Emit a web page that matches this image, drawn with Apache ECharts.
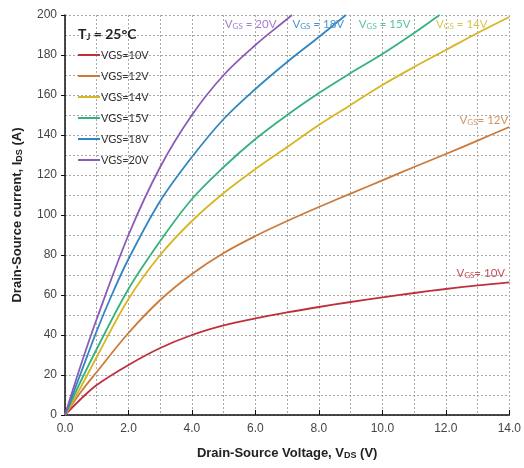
<!DOCTYPE html>
<html>
<head>
<meta charset="utf-8">
<script src="https://cdn.jsdelivr.net/npm/echarts@6/dist/echarts.min.js"></script>
<style>
  html, body { margin: 0; padding: 0; background: #fff; }
</style>
</head>
<body>
<!-- container sized like the reference picture -->
<div id="main" style="width: 524px; height: 468px"></div>
<script>
// drain-source voltage (V) points
var vds = [0, 0.5, 1, 2, 3, 4, 5, 6, 7, 8, 9, 10, 11, 12, 13, 14];
var vds15 = [0, 0.5, 1, 2, 3, 4, 5, 6, 7, 8, 9, 10, 11, 11.8];
var vds18 = [0, 0.5, 1, 1.5, 2, 3, 4, 5, 6, 7, 8, 8.85];
var vds20 = [0, 0.5, 1, 2, 3, 4, 5, 6, 7, 7.15];

// drain-source current (A)
var ids10 = [0, 8, 15, 25, 33.5, 40, 44.8, 48.3, 51.3, 54, 56.5, 58.8, 61, 63, 64.8, 66.3];
var ids12 = [0, 11.5, 21.5, 41, 57.5, 70.5, 81, 89.5, 97, 104, 110.7, 117.3, 124, 130.5, 137.2, 144];
var ids14 = [0, 14, 29, 58, 80, 97, 111, 123, 134, 145, 155, 165, 174, 182.5, 191, 199];
var ids15 = [0, 17, 33, 63, 87, 108, 124, 138, 150, 161, 171, 180.5, 191, 200];
var ids18 = [0, 21, 42, 61, 78, 107, 129, 148, 163, 176.5, 189, 200];
var ids20 = [0, 25, 48, 90, 124, 150, 170, 185, 198, 200];

var names = ['VGS=10V', 'VGS=12V', 'VGS=14V', 'VGS=15V', 'VGS=18V', 'VGS=20V'];
var curveLabels = ['10V', '12V', '14V', '15V', '18V', '20V'];
var xTicks = [0, 2, 4, 6, 8, 10, 12, 14];
var yTicks = [0, 20, 40, 60, 80, 100, 120, 140, 160, 180, 200];

var colors = ['#c0303c', '#cc7a3a', '#d6b624', '#33b27c', '#2f86c2', '#8b5cb6'];
var labelColors = ['#c8505a', '#d49460', '#d8c450', '#5cc49a', '#4f93cc', '#a07ec8'];

function pairs(xs, ys) {
  return xs.map(function (x, i) { return [x, ys[i]]; });
}

var curves = [
  { x: vds, y: ids10, at: [13.1, 71], sep: '= ' },
  { x: vds, y: ids12, at: [13.2, 147.5], sep: '= ' },
  { x: vds, y: ids14, at: [12.5, 195.5], sep: ' = ' },
  { x: vds15, y: ids15, at: [10.07, 195.5], sep: ' = ' },
  { x: vds18, y: ids18, at: [7.98, 195.5], sep: ' = ' },
  { x: vds20, y: ids20, at: [5.85, 195.5], sep: ' = ' }
];

var FONT = '"Liberation Sans", Arial, sans-serif';
var LFONT = 'Lato, "Open Sans", sans-serif';

var series = curves.map(function (c, i) {
  return {
    name: names[i],
    type: 'line',
    smooth: 0.35,
    symbol: 'none',
    data: pairs(c.x, c.y),
    lineStyle: { color: colors[i], width: 1.8 },
    itemStyle: { color: colors[i] },
    markPoint: {
      symbol: 'circle',
      symbolSize: 0,
      silent: true,
      data: [{ coord: c.at }],
      label: {
        show: true,
        position: 'inside',
        formatter: 'V{s|GS}' + c.sep + curveLabels[i],
        color: labelColors[i],
        fontFamily: LFONT,
        fontSize: 11.5,
        rich: {
          s: { fontSize: 8, color: labelColors[i], fontFamily: LFONT, padding: [4, 0, 0, 0] }
        }
      }
    }
  };
});

var dashed = { show: true, lineStyle: { color: '#a8a8a8', type: [2, 2], width: 1 } };

var chart = echarts.init(document.getElementById('main'));
chart.setOption({
  animation: false,
  backgroundColor: '#fff',
  title: {
    left: 78,
    top: 27,
    padding: 0,
    text: 'T{j|J} = 25°C',
    textStyle: {
      fontFamily: LFONT,
      fontWeight: 'bold',
      fontSize: 14,
      color: '#222',
      rich: { j: { fontSize: 9, fontWeight: 'bold', fontFamily: LFONT, color: '#222', padding: [6, 0, 0, 0] } }
    }
  },
  legend: {
    orient: 'vertical',
    left: 78,
    top: 48,
    padding: 0,
    icon: 'rect',
    itemWidth: 22,
    itemHeight: 2,
    itemGap: 7,
    data: names,
    textStyle: { fontFamily: LFONT, fontSize: 11, color: '#333', lineHeight: 14, padding: [0, 0, 0, -4] }
  },
  grid: { left: 65, right: 11, top: 15, bottom: 53 },
  xAxis: {
    type: 'value',
    min: xTicks[0],
    max: xTicks[xTicks.length - 1],
    interval: 2,
    name: 'Drain-Source Voltage, V{s|DS} (V)',
    nameLocation: 'middle',
    nameGap: 31,
    nameTextStyle: {
      fontFamily: FONT, fontWeight: 'bold', fontSize: 13, color: '#222',
      rich: { s: { fontSize: 9, fontWeight: 'bold', fontFamily: FONT, color: '#222', padding: [5, 0, 0, 0] } }
    },
    axisLine: { show: true, lineStyle: { color: '#111', width: 1.5 } },
    axisTick: { show: true, inside: true, length: 5, lineStyle: { color: '#111' } },
    axisLabel: {
      fontFamily: FONT, fontSize: 12, color: '#444', margin: 8,
      formatter: function (v) { return v.toFixed(1); }
    },
    splitLine: dashed,
    minorTick: { show: false, splitNumber: 2 },
    minorSplitLine: dashed
  },
  yAxis: {
    type: 'value',
    min: yTicks[0],
    max: yTicks[yTicks.length - 1],
    interval: 20,
    name: 'Drain-Source current, I{s|DS} (A)',
    nameLocation: 'middle',
    nameRotate: 90,
    nameGap: 41,
    nameTextStyle: {
      fontFamily: FONT, fontWeight: 'bold', fontSize: 13, color: '#222',
      rich: { s: { fontSize: 9, fontWeight: 'bold', fontFamily: FONT, color: '#222', padding: [5, 0, 0, 0] } }
    },
    axisLine: { show: true, lineStyle: { color: '#111', width: 1.5 } },
    axisTick: { show: true, length: 4, lineStyle: { color: '#111' } },
    axisLabel: { fontFamily: FONT, fontSize: 12, color: '#444', margin: 8 },
    splitLine: dashed,
    minorTick: { show: false, splitNumber: 2 },
    minorSplitLine: dashed
  },
  series: series
});
</script>
</body>
</html>
